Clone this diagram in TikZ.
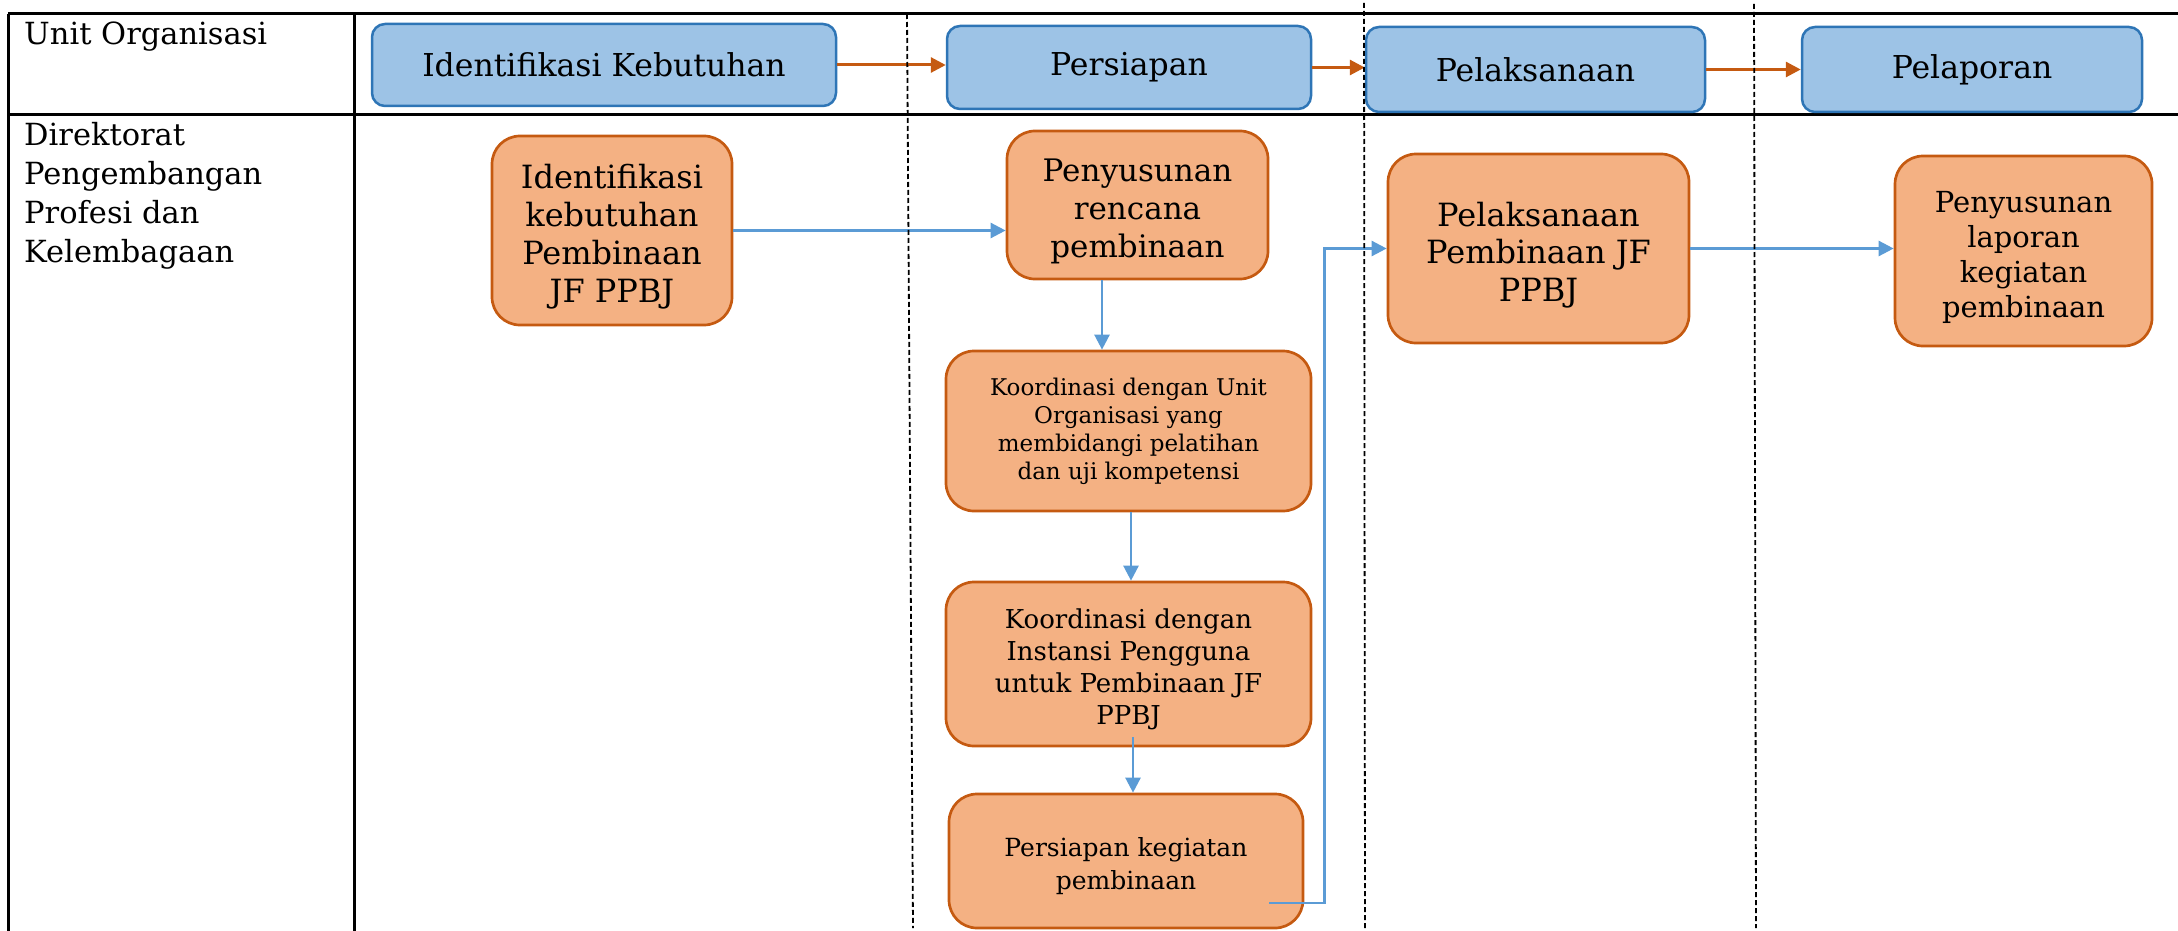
\documentclass[tikz,border=0pt]{standalone}
\usepackage{fontspec}
\setmainfont{DejaVu Serif}
\usetikzlibrary{arrows.meta}
\definecolor{bluefill}{HTML}{9DC3E6}
\definecolor{blueline}{HTML}{2E75B6}
\definecolor{orangefill}{HTML}{F4B183}
\definecolor{orangeline}{HTML}{C55A11}
\definecolor{flowblue}{HTML}{5B9BD5}
\newcommand{\fs}[2]{\fontsize{#1}{#2}\selectfont}
% extra head room on the first line, so the text sits a little low in its box
\newcommand{\topgap}{\rule{0pt}{1.15em}}
\begin{document}
\begin{tikzpicture}[x=1pt,y=-1pt,
  phase/.style={draw=blueline, fill=bluefill, line width=2.5pt, rounded corners=13pt,
    inner sep=0pt, font=\fs{31.5}{38}},
  task/.style={draw=orangeline, fill=orangefill, line width=2.7pt, rounded corners=28pt,
    inner sep=0pt, align=center},
  phaseflow/.style={draw=orangeline, line width=3pt, -{Triangle[length=15pt,width=15pt]}},
  taskflow/.style={draw=flowblue, line width=2.5pt, -{Triangle[length=15pt,width=15pt]}},
  rule/.style={line width=3pt},
  lane/.style={line width=1.8pt, dash pattern=on 5pt off 3pt},
  lanelabel/.style={inner sep=0pt, align=left, font=\fs{30.5}{39}},
]
\useasboundingbox (0,0) rectangle (2178,931);

% table grid
\draw[rule] (8,14) -- (2178,14);
\draw[rule] (8,115) -- (2178,115);
\draw[rule] (8,14) -- (8,931);
\draw[rule] (354,14) -- (354,931);

% swimlane labels
\node[lanelabel, anchor=base west] (unit) at (24,45) {Unit Organisasi};
\node[lanelabel, anchor=north west] (dir) at (24,122)
  {Direktorat\\Pengembangan\\Profesi dan\\Kelembagaan};

% phase row
\node[phase, minimum width=464pt, minimum height=82pt] (p1) at (604,65) {Identifikasi Kebutuhan};
\node[phase, minimum width=364pt, minimum height=83pt] (p2) at (1129,67.5) {Persiapan};
\node[phase, minimum width=339pt, minimum height=85pt] (p3) at (1535.5,69.5) {Pelaksanaan};
\node[phase, minimum width=340pt, minimum height=85pt] (p4) at (1972,69.5) {Pelaporan};

% task boxes
\node[task, minimum width=240pt, minimum height=189pt, font=\fs{32}{38}] (a) at (612,230.5)
  {\topgap Identifikasi\\kebutuhan\\Pembinaan\\JF PPBJ};
\node[task, minimum width=261pt, minimum height=148pt, font=\fs{31}{38}] (b) at (1137.5,205)
  {\topgap Penyusunan\\rencana\\pembinaan};
\node[task, minimum width=365pt, minimum height=160pt, font=\fs{23}{28}] (c) at (1128.5,431)
  {Koordinasi dengan Unit\\Organisasi yang\\membidangi pelatihan\\dan uji kompetensi};
\node[task, minimum width=365pt, minimum height=164pt, font=\fs{26}{32}] (d) at (1128.5,664)
  {\topgap Koordinasi dengan\\Instansi Pengguna\\untuk Pembinaan JF\\PPBJ};
\node[task, minimum width=354pt, minimum height=134pt, font=\fs{25}{33}] (e) at (1126,861)
  {\topgap Persiapan kegiatan\\pembinaan};
\node[task, minimum width=301pt, minimum height=189pt, font=\fs{32}{37.5}] (f) at (1538.5,248.5)
  {\topgap Pelaksanaan\\Pembinaan JF\\PPBJ};
\node[task, minimum width=257pt, minimum height=190pt, font=\fs{29}{35}] (g) at (2023.5,251)
  {\topgap Penyusunan\\laporan\\kegiatan\\pembinaan};

% phase flow
\draw[phaseflow] (p1.east) -- (p1.east -| p2.west);
\draw[phaseflow] (p2.east) -- (p2.east -| p3.west);
\draw[phaseflow] (p3.east) -- (p4.west);

% task flow
\draw[taskflow] (a.east) -- (a.east -| b.west);
\draw[taskflow] ([xshift=-35.5pt]b.south) -- ([xshift=-35.5pt]b.south |- c.north);
\draw[taskflow] ([xshift=2.5pt]c.south) -- ([xshift=2.5pt]c.south |- d.north);
\draw[taskflow] ([xshift=4.5pt,yshift=10pt]d.south) -- ([xshift=4.5pt]d.south |- e.north);
\coordinate (eout) at ([xshift=-35pt,yshift=-42pt]e.east);
\draw[taskflow] (eout) -| ([xshift=-62pt]f.west) -- (f.west);
\draw[taskflow] (f.east) -- (f.east -| g.west);

% lane separators
\draw[lane] (907,14) -- (913,928);
\draw[lane] (1364,3) -- (1365,928);
\draw[lane] (1754,4) -- (1756,928);
\end{tikzpicture}
\end{document}
